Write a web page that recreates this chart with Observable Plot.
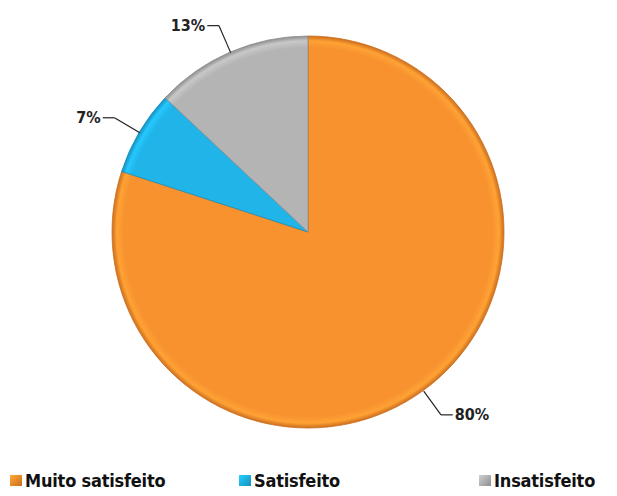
<!DOCTYPE html>
<html><head><meta charset="utf-8">
<script src="https://cdn.jsdelivr.net/npm/d3@7"></script>
<script src="https://cdn.jsdelivr.net/npm/@observablehq/plot@0.6"></script>
<style>
html,body{margin:0;padding:0;background:#fff;width:617px;height:496px;overflow:hidden;}
#chart svg{display:block;}
#legend{display:grid;grid-template-columns:229px 240px auto;padding-left:10px;height:31px;align-items:center;
  font-family:"DejaVu Sans Condensed","Liberation Sans Narrow",sans-serif;font-weight:bold;font-size:18px;letter-spacing:-0.2px;color:#111;}
#legend .item{display:flex;align-items:center;white-space:nowrap;}
#legend .sw{width:12px;height:11px;margin-right:3px;display:inline-block;}
</style></head>
<body><div id="chart"></div><div id="legend"></div>
<script>
const categories = ["Muito satisfeito", "Satisfeito", "Insatisfeito"];
const values = [80, 7, 13];
const labels = ["80%", "7%", "13%"];
const colors = ["#F7922F", "#20B4E8", "#B4B4B4"];
const edgeColors = ["#CC6E1E", "#1690BE", "#8E8E8E"];

const color = Plot.scale({color: {type: "ordinal", domain: categories, range: colors}});
const edge = Plot.scale({color: {type: "ordinal", domain: categories, range: edgeColors}});

const arcs = d3.pie().sort(null).value(d => d.value)(
  categories.map((c, i) => ({category: c, value: values[i], label: labels[i]}))
);
const rows = arcs.map(a => {
  const mid = (a.startAngle + a.endAngle) / 2;
  const sx = Math.sin(mid), cy = Math.cos(mid);
  const side = sx < 0 ? -1 : 1;
  const k = 1.15;
  return {
    ...a.data, startAngle: a.startAngle, endAngle: a.endAngle,
    ex: sx, ey: cy, kx: k * sx, ky: k * cy, tx: k * sx + side * 0.06, ty: k * cy, side
  };
});

function pieMark(index, scales) {
  const cx = scales.x(0), cyy = scales.y(0), r = scales.x(1) - scales.x(0);
  const g = d3.create("svg:g").attr("transform", `translate(${cx},${cyy})`);
  const defs = g.append("defs");
  rows.forEach((d, i) => {
    const base = color.apply(d.category);
    const gr = defs.append("radialGradient").attr("id", "rg" + i)
      .attr("gradientUnits", "userSpaceOnUse").attr("cx", 0).attr("cy", 0).attr("r", r);
    gr.append("stop").attr("offset", "0%").attr("stop-color", base);
    gr.append("stop").attr("offset", "94%").attr("stop-color", base);
    gr.append("stop").attr("offset", "97.5%").attr("stop-color", d3.color(base).brighter(0.3));
    gr.append("stop").attr("offset", "100%").attr("stop-color", edge.apply(d.category));
  });
  const arc = d3.arc().innerRadius(0).outerRadius(r);
  g.selectAll("path.s").data(rows).join("path")
    .attr("class", "s")
    .attr("d", d => arc(d))
    .attr("fill", (d, i) => `url(#rg${i})`)
    .attr("stroke", d => edge.apply(d.category))
    .attr("stroke-width", 0.8)
    .attr("stroke-linejoin", "round");
  return g.node();
}

const font = "DejaVu Sans Condensed, Liberation Sans Narrow, sans-serif";
const chart = Plot.plot({
  width: 617, height: 465,
  margin: 0,
  x: {domain: [-1, 1], range: [112, 504], axis: null},
  y: {domain: [-1, 1], range: [428, 36], axis: null},
  marks: [
    pieMark,
    Plot.link(rows, {x1: "ex", y1: "ey", x2: "kx", y2: "ky", stroke: "#222", strokeWidth: 1.2}),
    Plot.link(rows, {x1: "kx", y1: "ky", x2: "tx", y2: "ty", stroke: "#222", strokeWidth: 1.2}),
    Plot.text(rows.filter(d => d.side < 0), {x: "tx", y: "ty", text: "label", textAnchor: "end", dx: -2,
      fontSize: 16, fontWeight: "bold", fill: "#222", fontFamily: font}),
    Plot.text(rows.filter(d => d.side > 0), {x: "tx", y: "ty", text: "label", textAnchor: "start", dx: 2,
      fontSize: 16, fontWeight: "bold", fill: "#222", fontFamily: font})
  ]
});
document.getElementById("chart").appendChild(chart);

const legend = d3.select("#legend");
categories.forEach((c, i) => {
  const it = legend.append("div").attr("class", "item");
  it.append("span").attr("class", "sw")
    .style("background", `linear-gradient(135deg, ${d3.color(colors[i]).brighter(0.4)}, ${edgeColors[i]})`);
  it.append("span").text(c);
});
</script>
</body></html>
